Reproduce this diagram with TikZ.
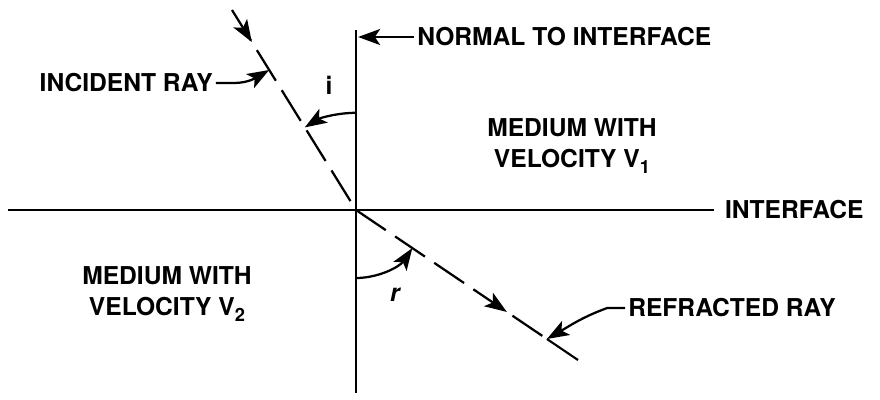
\documentclass[tikz,border=0pt]{standalone}
\usepackage{fontspec}
\setsansfont{TeX Gyre Heros}
\usetikzlibrary{
  arrows.meta,
  positioning,
  calc,
  decorations.markings
}
\definecolor{snlLine}{RGB}{0,0,0}
\newcommand{\snlsub}[1]{\raisebox{-0.45ex}{\fontsize{13}{13}\selectfont #1}}
\tikzset{
  snllabel/.style={
    font=\sffamily\bfseries\fontsize{17.5}{22.5}\selectfont,
    inner sep=0pt,
    align=center
  },
  snlaxis/.style={
    line width=1.5pt,
    draw=snlLine
  },
  snlray/.style={
    line width=1.6pt,
    draw=snlLine,
    dash pattern=on 9mm off 2.8mm
  },
  snlarrow/.style={
    -{Stealth[length=5.5mm,width=4mm,inset=1.3mm]},
    line width=1.6pt,
    draw=snlLine
  },
  snlmid/.style={
    postaction={decorate},
    decoration={markings,
      mark=at position #1 with {\arrow{Stealth[length=5.5mm,width=4mm,inset=1.3mm]}}}
  }
}

\begin{document}
\begin{tikzpicture}
  \useasboundingbox (-8.9,-4.725) rectangle (13.1,5.25);

  \coordinate (o) at (0,0);
  \coordinate (ntop) at (0,4.5);
  \coordinate (nbot) at (0,-4.575);
  \coordinate (ileft) at (-8.7,0);
  \coordinate (iright) at (8.95,0);
  \coordinate (inc) at (-3.1,5.0);
  \coordinate (ref) at (5.55,-3.75);
  \coordinate (inchit) at ($(inc)!0.3!(o)$);
  \coordinate (refhit) at ($(o)!0.86!(ref)$);

  % normal and interface
  \draw[snlaxis] (ntop) -- (nbot);
  \draw[snlaxis] (ileft) -- (iright);

  % rays
  \draw[snlray, snlmid=0.16] (inc) -- (o);
  \draw[snlray, snlmid=0.79] (o) -- (refhit);
  \draw[snlaxis] (refhit) -- (ref);

  % angles
  \draw[snlarrow] ($(o)+(90:2.43)$) arc[start angle=90, end angle=121.8, radius=2.43];
  \draw[snlarrow] ($(o)+(270:1.7)$) arc[start angle=270, end angle=325.9, radius=1.7];
  \node[snllabel] (ilbl) at (-0.675,3.125) {i};
  \node[snllabel] (rlbl) at (0.975,-2.125) {\itshape r};

  \node[snllabel, anchor=west] (nlbl) at (1.525,4.325) {NORMAL TO INTERFACE};
  \draw[snlarrow] ([xshift=-2pt]nlbl.west) -- ([xshift=1.5pt]nlbl.west -| o);

  \node[snllabel, anchor=west] (iflbl) at (9.22,0) {INTERFACE};

  \node[snllabel, anchor=east] (inclbl) at (-3.575,3.175) {INCIDENT RAY};
  \draw[snlarrow] ([xshift=2pt]inclbl.east) -- ++(0.45,0) to[out=0,in=210] (inchit);

  \node[snllabel, anchor=west] (reflbl) at (6.8,-2.45) {REFRACTED RAY};
  \draw[snlarrow] ([xshift=-2pt]reflbl.west) -- ++(-0.45,0) to[out=200,in=30] (refhit);

  \node[snllabel] (med1) at (5.4,1.6) {MEDIUM WITH\\VELOCITY V\snlsub{1}};
  \node[snllabel] (med2) at (-4.725,-2.1) {MEDIUM WITH\\VELOCITY V\snlsub{2}};
\end{tikzpicture}
\end{document}
